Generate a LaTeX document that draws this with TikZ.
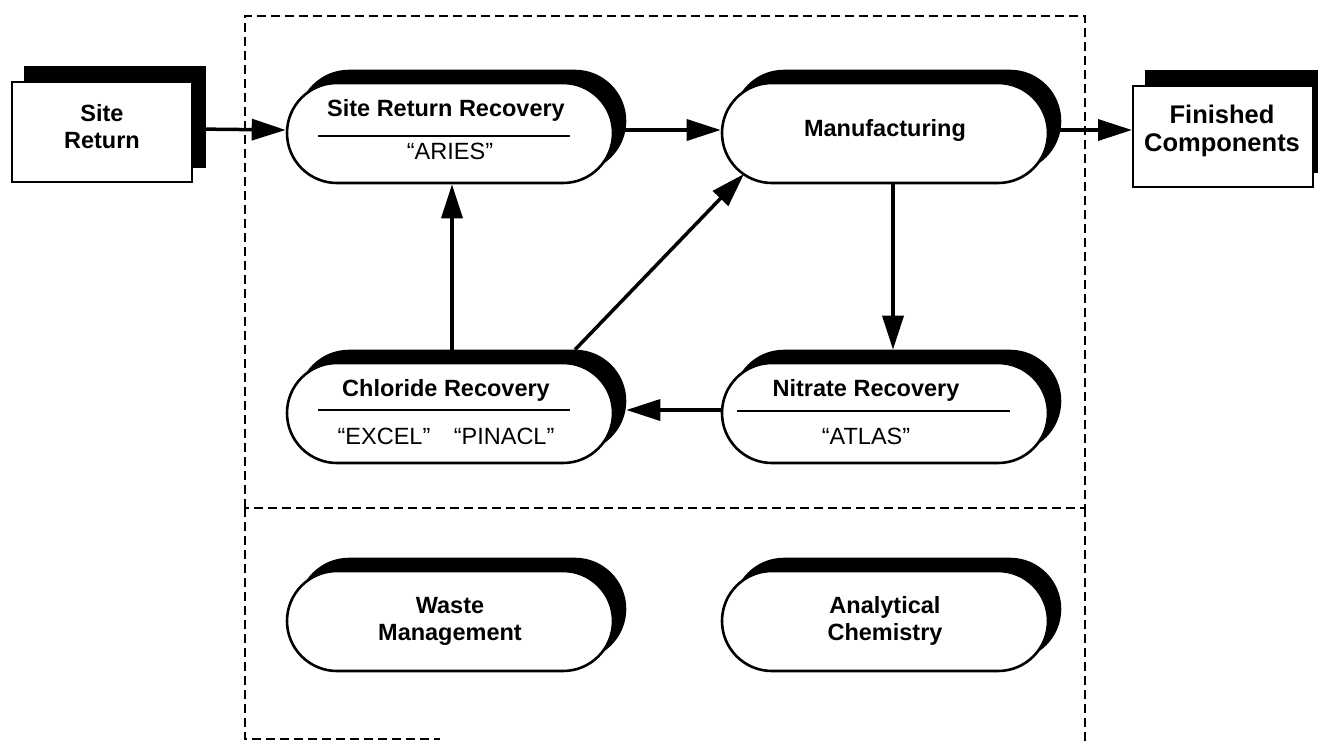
\documentclass[tikz,border=0pt]{standalone}
\usepackage{fontspec}
\setmainfont{Liberation Sans}
\usetikzlibrary{arrows.meta,shadows}
\begin{document}
\begin{tikzpicture}[x=1pt,y=-1pt,
  stad/.style={draw=black,line width=2.6pt,fill=white,rounded corners=50pt,
    minimum width=326pt,minimum height=100pt,inner sep=0pt,
    general shadow={fill=black,draw=black,shadow xshift=12pt,shadow yshift=12pt}},
  ext/.style={draw=black,line width=2pt,fill=white,
    minimum width=180pt,minimum height=100pt,inner sep=0pt,
    general shadow={fill=black,draw=black,shadow xshift=13pt,shadow yshift=15pt}},
  ttl/.style={font=\fontsize{23.5}{27}\selectfont\bfseries,align=center,inner sep=0pt},
  sub/.style={font=\fontsize{23.5}{27}\selectfont,align=center,inner sep=0pt},
  arr/.style={line width=3.5pt,-{Triangle[length=34pt,width=21pt]}},
  sep/.style={line width=2pt},
  box/.style={line width=2.2pt,dash pattern=on 9pt off 5pt}
]
\useasboundingbox (0,0) rectangle (1318,742);

% dashed frame
\coordinate (f1) at (245,16);
\coordinate (f2) at (1085,16);
\coordinate (f3) at (1085,508);
\coordinate (f4) at (245,508);
\coordinate (f5) at (245,739);
\coordinate (f6) at (440,739);
\coordinate (f7) at (1085,742);
\draw[box] (f4) -- (f1) -- (f2) -- (f3) -- cycle;
\draw[box] (f4) -- (f5) -- (f6);
\draw[box] (f3) -- (f7);

% external boxes
\node[ext] (sr) at (102,132) {};
\node[ttl] (srT) at (102,127) {Site\\Return};
\node[ext,minimum height=101pt] (fc) at (1223,136.5) {};
\node[ttl,font=\fontsize{25.5}{28}\selectfont\bfseries] (fcT) at (1222,131) {Finished\\Components};

% process nodes
\node[stad] (srr) at (450,133) {};
\node[ttl] (srrT) at (446,110) {Site Return Recovery};
\node[sub] (srrS) at (450,151) {“ARIES”};
\draw[sep] ([xshift=-132pt,yshift=-3pt]srr.center) -- ([xshift=120pt,yshift=-3pt]srr.center);

\node[stad] (mfg) at (885,133) {};
\node[ttl] (mfgT) at (885,130) {Manufacturing};

\node[stad] (nit) at (885,413) {};
\node[ttl] (nitT) at (866,390) {Nitrate Recovery};
\node[sub] (nitS) at (866,436) {“ATLAS”};
\draw[sep] ([xshift=-148pt,yshift=2pt]nit.center) -- ([xshift=125pt,yshift=2pt]nit.center);

\node[stad] (chl) at (450,413) {};
\node[ttl] (chlT) at (446,390) {Chloride Recovery};
\node[sub] (chlS) at (446,436) {“EXCEL”\quad “PINACL”};
\draw[sep] ([xshift=-132pt,yshift=3pt]chl.center) -- ([xshift=120pt,yshift=3pt]chl.center);

\node[stad] (wm) at (450,621) {};
\node[ttl] (wmT) at (450,621) {Waste\\Management};

\node[stad] (ac) at (885,621) {};
\node[ttl] (acT) at (885,621) {Analytical\\Chemistry};

% connectors
\draw[arr] ([yshift=3pt]sr.east) -- ([yshift=3pt]srr.west);
\draw[arr] ([yshift=3pt]srr.east) -- ([yshift=3pt]mfg.west);
\draw[arr] ([yshift=3pt]mfg.east) -- ([yshift=3pt]mfg.east -| fc.west);
\draw[arr] ([xshift=8pt]mfg.south) -- ([xshift=8pt,yshift=12pt]nit.north);
\draw[arr] ([yshift=3pt]nit.west) -- ([xshift=12pt,yshift=3pt]chl.east);
\draw[arr] ([xshift=2pt,yshift=12pt]chl.north) -- ([xshift=2pt]srr.south);
\draw[arr] ([xshift=125pt,yshift=12pt]chl.north) -- ([xshift=-141pt,yshift=-41pt]mfg.center);
\end{tikzpicture}
\end{document}
